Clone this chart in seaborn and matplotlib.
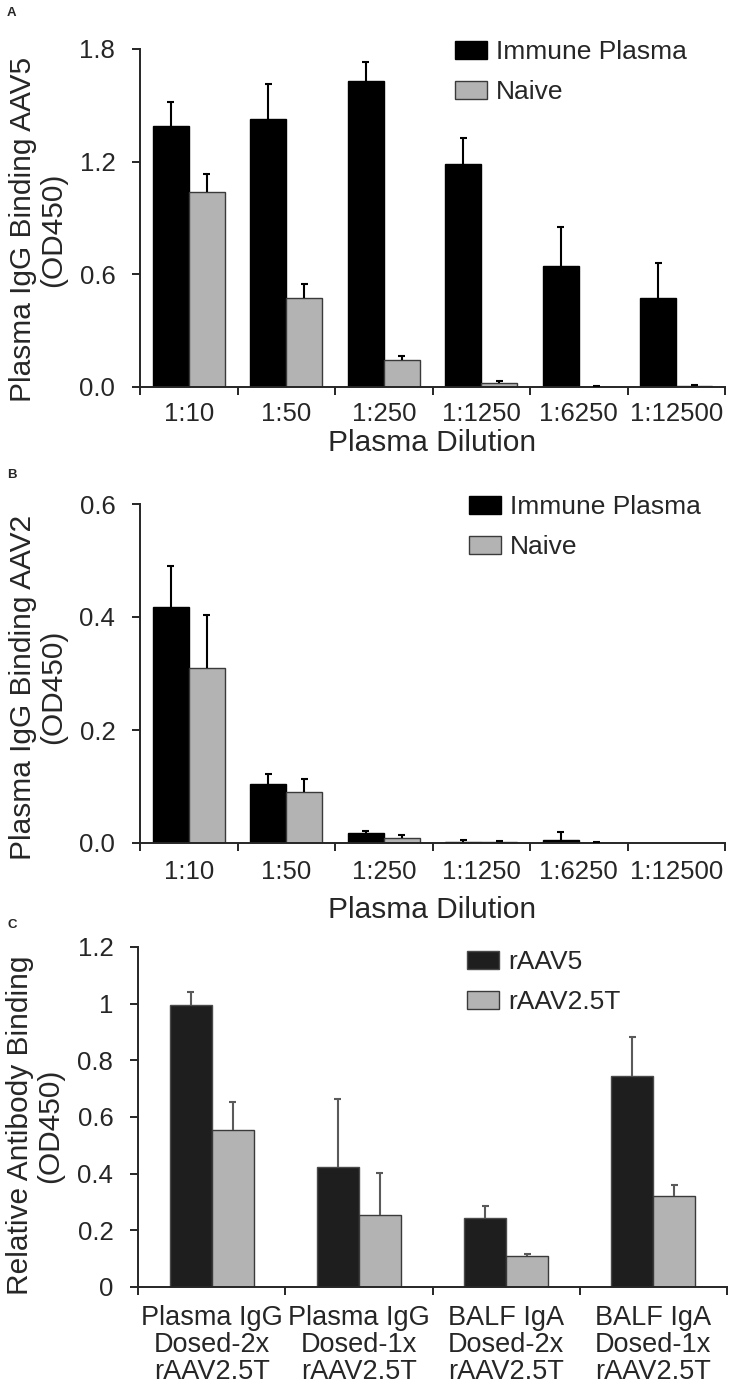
import numpy as np
import pandas as pd
import matplotlib
matplotlib.use("Agg")
import matplotlib.pyplot as plt
import seaborn as sns
from matplotlib.ticker import FixedLocator

# ---------------- data ----------------
dilutions = ["1:10", "1:50", "1:250", "1:1250", "1:6250", "1:12500"]

a_immune = [1.39, 1.425, 1.632, 1.186, 0.642, 0.476]
a_immune_err = [0.128, 0.19, 0.10, 0.14, 0.21, 0.184]
a_naive = [1.041, 0.474, 0.142, 0.021, 0.002, 0.003]
a_naive_err = [0.092, 0.076, 0.021, 0.013, 0.002, 0.005]

b_immune = [0.418, 0.104, 0.018, 0.002, 0.006, 0.0]
b_immune_err = [0.073, 0.018, 0.003, 0.003, 0.013, 0.0]
b_naive = [0.309, 0.090, 0.008, 0.001, 0.0005, 0.0]
b_naive_err = [0.094, 0.024, 0.007, 0.002, 0.001, 0.0]

c_groups = ["Plasma IgG\nDosed-2x\nrAAV2.5T", "Plasma IgG\nDosed-1x\nrAAV2.5T",
            "BALF IgA\nDosed-2x\nrAAV2.5T", "BALF IgA\nDosed-1x\nrAAV2.5T"]
c_raav5 = [0.997, 0.424, 0.242, 0.746]
c_raav5_err = [0.045, 0.238, 0.045, 0.136]
c_raav25t = [0.555, 0.253, 0.109, 0.321]
c_raav25t_err = [0.098, 0.149, 0.009, 0.038]

ab_series = ["Immune Plasma", "Naive"]
c_series = ["rAAV5", "rAAV2.5T"]

a_yticks = [0.0, 0.6, 1.2, 1.8]
a_yticklabels = ["0.0", "0.6", "1.2", "1.8"]
b_yticks = [0.0, 0.2, 0.4, 0.6]
b_yticklabels = ["0.0", "0.2", "0.4", "0.6"]
c_yticks = [0, 0.2, 0.4, 0.6, 0.8, 1.0, 1.2]
c_yticklabels = ["0", "0.2", "0.4", "0.6", "0.8", "1", "1.2"]

# ---------------- style ----------------
sns.set_theme(style="ticks")
plt.rcParams["font.family"] = ["Liberation Sans", "DejaVu Sans"]
plt.rcParams["axes.linewidth"] = 1.4

W, H = 729, 1386
fig = plt.figure(figsize=(W / 100, H / 100), dpi=100)

TICK_FS = 18.5
LAB_FS = 21.5
LEG_FS = 19


def px(x0, y_top, x1, y_bot):
    return [x0 / W, 1 - y_bot / H, (x1 - x0) / W, (y_bot - y_top) / H]


def panel(ax, cats, names, v1, e1, v2, e2, fills, edges, errc, width,
          yticks, yticklabels, ylim, ylabel, label_y, xlabel, xlabel_y,
          leg_xy, xtick_fs, xtick_pad, ax_px_width):
    n = len(cats)
    df = pd.DataFrame({
        "cat": list(cats) * 2,
        "series": [names[0]] * n + [names[1]] * n,
        "val": list(v1) + list(v2),
    })
    sns.barplot(data=df, x="cat", y="val", hue="series", order=cats,
                hue_order=names, palette=fills, width=width, ax=ax,
                errorbar=None, saturation=1, legend=False)
    cap_half = 3.5 / (ax_px_width / n)  # data units
    for cont, errs, ec in zip(ax.containers, [e1, e2], edges):
        for bar, e in zip(cont, errs):
            bar.set_edgecolor(ec)
            bar.set_linewidth(1.0)
            xc = bar.get_x() + bar.get_width() / 2
            h = bar.get_height()
            if e > 0:
                ax.vlines(xc, h, h + e, colors=errc, linewidth=1.5, zorder=3)
                ax.hlines(h + e, xc - cap_half, xc + cap_half, colors=errc,
                          linewidth=1.5, zorder=3)
    sns.despine(ax=ax)
    ax.set_xlim(-0.5, n - 0.5)
    ax.set_ylim(*ylim)
    ax.set_yticks(yticks)
    ax.set_yticklabels(yticklabels, fontsize=TICK_FS)
    ax.tick_params(axis="y", direction="out", length=5.8, width=1.4, pad=12)
    ax.xaxis.set_minor_locator(FixedLocator(np.arange(-0.5, n, 1.0)))
    ax.tick_params(axis="x", which="major", length=0, pad=xtick_pad,
                   labelsize=xtick_fs)
    ax.tick_params(axis="x", which="minor", direction="out", length=5.8,
                   width=1.4)
    ax.set_ylabel(ylabel, fontsize=LAB_FS, linespacing=1.1, ha="center")
    ax.yaxis.set_label_coords(label_y[0], label_y[1])
    if xlabel:
        ax.set_xlabel(xlabel, fontsize=LAB_FS)
        ax.xaxis.set_label_coords(0.5, xlabel_y)
    else:
        ax.set_xlabel("")
    for t in ax.get_xticklabels():
        t.set_linespacing(1.05)
    handles = [ax.containers[0], ax.containers[1]]
    ax.legend(handles=handles, labels=names, loc="upper left",
              bbox_to_anchor=(leg_xy[0] / W, 1 - leg_xy[1] / H),
              bbox_transform=fig.transFigure, frameon=False,
              fontsize=LEG_FS, borderpad=0, handlelength=1.2,
              handleheight=0.7, handletextpad=0.35, labelspacing=0.62,
              borderaxespad=0)


axA = fig.add_axes(px(140, 49, 725, 387))
panel(axA, dilutions, ab_series, a_immune, a_immune_err, a_naive, a_naive_err,
      ["#000000", "#b3b3b3"], ["#000000", "#3a3a3a"], "#000000", 0.74,
      a_yticks, a_yticklabels, (0, 1.8),
      "Plasma IgG Binding AAV5\n(OD450)", (-0.125, 0.465),
      "Plasma Dilution", -0.125, (455, 40), TICK_FS, 11, 585)

axB = fig.add_axes(px(140, 504, 725, 843))
panel(axB, dilutions, ab_series, b_immune, b_immune_err, b_naive, b_naive_err,
      ["#000000", "#b3b3b3"], ["#000000", "#3a3a3a"], "#000000", 0.74,
      b_yticks, b_yticklabels, (0, 0.6),
      "Plasma IgG Binding AAV2\n(OD450)", (-0.125, 0.46),
      "Plasma Dilution", -0.155, (469, 495), TICK_FS, 12, 585)

axC = fig.add_axes(px(138, 947, 727, 1287))
panel(axC, c_groups, c_series, c_raav5, c_raav5_err, c_raav25t, c_raav25t_err,
      ["#1e1e1e", "#b3b3b3"], ["#4a4a4a", "#3a3a3a"], "#5a5a5a", 0.57,
      c_yticks, c_yticklabels, (0, 1.2),
      "Relative Antibody Binding\n(OD450)", (-0.125, 0.475),
      None, None, (467, 950), 19.5, 13, 589)

for lab, yy in [("A", 13), ("B", 475), ("C", 925)]:
    fig.text(7 / W, 1 - yy / H, lab, fontsize=9.5, fontweight="bold",
             va="center", ha="left")

fig.savefig("out.png", dpi=100)
